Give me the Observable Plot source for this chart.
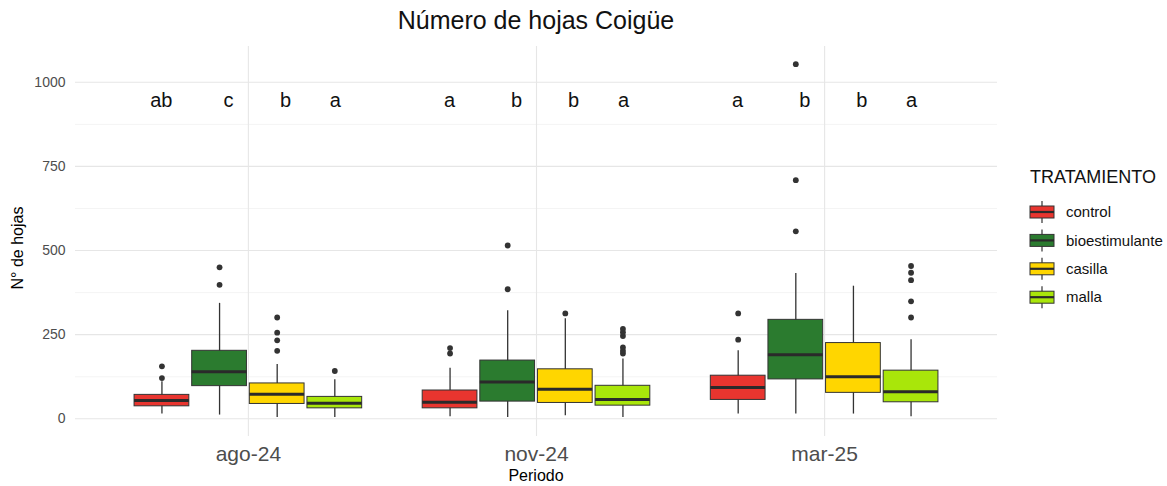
<!DOCTYPE html>
<html>
<head>
<meta charset="utf-8">
<script src="https://cdn.jsdelivr.net/npm/d3@7"></script>
<script src="https://cdn.jsdelivr.net/npm/@observablehq/plot@0.6"></script>
<style>
  html, body { margin: 0; padding: 0; background: #fff; }
  #wrap { position: relative; width: 1167px; height: 486px; font-family: "Liberation Sans", Arial, sans-serif; overflow: hidden; }
  #chart { position: absolute; left: 0; top: 0; }
  .lbl { position: absolute; white-space: nowrap; color: #000; }
</style>
</head>
<body>
<div id="wrap">
  <div id="chart"></div>
  <div class="lbl" id="title" style="left:0;width:1072px;text-align:center;top:6px;font-size:25px;color:#111;">Número de hojas Coigüe</div>
  <div class="lbl" id="xlab" style="left:0;width:1072px;text-align:center;top:467px;font-size:16px;line-height:18px;">Periodo</div>
  <div class="lbl" id="ylab" style="left:18px;top:248px;font-size:16px;transform:translate(-50%,-50%) rotate(-90deg);">N° de hojas</div>
  <div id="legend" style="position:absolute;left:1030px;top:164px;"></div>
</div>
<script>
// ---- data ----
const periods = ["ago-24", "nov-24", "mar-25"];
const treatments = ["control", "bioestimulante", "casilla", "malla"];
const colors = ["#E8352F", "#2B7B2F", "#FFD600", "#A9E60A"];

// statistics indexed [period][treatment]
const q1 = [[37, 97, 44, 31], [31, 51, 47, 39], [56, 117, 77, 49]];
const median = [[54, 140, 73, 46], [49, 109, 88, 57], [93, 190, 125, 80]];
const q3 = [[71, 202, 105, 65], [84, 173, 147, 98], [128, 294, 225, 143]];
const whiskerLow = [[14, 11, 4, 4], [6, 4, 9, 4], [14, 14, 14, 6]];
const whiskerHigh = [[110, 343, 161, 116], [150, 321, 297, 178], [202, 432, 394, 235]];
const outliers = [
  [[121, 156], [398, 450], [202, 233, 256, 301], [142]],
  [[194, 210], [385, 515], [313], [194, 202, 212, 246, 257, 267]],
  [[235, 313], [557, 709, 1054], [], [301, 349, 412, 434, 454]]
];
const letters = [["ab", "c", "b", "a"], ["a", "b", "b", "a"], ["a", "b", "b", "a"]];
const letterY = 945;
const yTicks = [0, 250, 500, 750, 1000];
const yMinor = [125, 375, 625, 875];

// ---- layout constants ----
const boxOffset = [-0.3, -0.1, 0.1, 0.3];
const letterOffset = [-0.302, -0.069, 0.129, 0.302];
const halfW = 0.095;

const stats = [];
const outs = [];
const lets = [];
periods.forEach((p, g) => treatments.forEach((t, ti) => {
  stats.push({period: p, trat: t, gi: g + 1, ti,
    q1: q1[g][ti], med: median[g][ti], q3: q3[g][ti], lo: whiskerLow[g][ti], hi: whiskerHigh[g][ti]});
  outliers[g][ti].forEach(v => outs.push({gi: g + 1, ti, v}));
  lets.push({gi: g + 1, ti, text: letters[g][ti], y: letterY});
}));
const xc = d => d.gi + boxOffset[d.ti];

const chart = Plot.plot({
  width: 1167, height: 486,
  marginLeft: 75, marginRight: 170, marginTop: 46, marginBottom: 50,
  x: {domain: [0.4, 3.6], axis: null},
  y: {domain: [-52.7, 1106.4], axis: null},
  color: {domain: treatments, range: colors},
  style: {fontFamily: "Liberation Sans, Arial, sans-serif", background: "white", overflow: "visible"},
  marks: [
    Plot.gridY(yMinor, {stroke: "#F1F1F1", strokeOpacity: 1, strokeWidth: 0.8}),
    Plot.gridY(yTicks, {stroke: "#E6E6E6", strokeOpacity: 1, strokeWidth: 1.1}),
    Plot.gridX([1, 2, 3], {stroke: "#E6E6E6", strokeOpacity: 1, strokeWidth: 1.1}),
    Plot.axisY(yTicks, {tickSize: 0, tickPadding: 10, fontSize: 14, color: "#4d4d4d", label: null,
      tickFormat: d => String(d)}),
    Plot.axisX([1, 2, 3], {tickSize: 0, tickPadding: 10, fontSize: 21, color: "#4d4d4d", label: null,
      tickFormat: i => periods[i - 1]}),
    Plot.ruleX(stats, {x: xc, y1: "lo", y2: "hi", stroke: "#333", strokeWidth: 1.3}),
    Plot.rect(stats, {x1: d => xc(d) - halfW, x2: d => xc(d) + halfW, y1: "q1", y2: "q3",
      fill: "trat", stroke: "#333", strokeWidth: 1}),
    Plot.ruleY(stats, {y: "med", x1: d => xc(d) - halfW, x2: d => xc(d) + halfW, stroke: "#2a2a2a", strokeWidth: 3}),
    Plot.dot(outs, {x: xc, y: "v", r: 2.9, fill: "#333", stroke: "none"}),
    Plot.text(lets, {x: d => d.gi + letterOffset[d.ti], y: "y", text: "text", fontSize: 20, fill: "#111"})
  ]
});
document.getElementById("chart").appendChild(chart);

// ---- legend ----
const lw = 140, lh = 150;
const lsvg = d3.select("#legend").append("svg").attr("width", lw).attr("height", lh)
  .style("font-family", "Liberation Sans, Arial, sans-serif").style("overflow", "visible");
lsvg.append("text").attr("x", 0).attr("y", 19).attr("font-size", 18).attr("fill", "#111").text("TRATAMIENTO");
const rows = lsvg.selectAll("g.row").data(treatments).join("g")
  .attr("transform", (d, i) => `translate(0, ${48 + i * 28.4})`);
rows.append("line").attr("x1", 12).attr("x2", 12).attr("y1", -11).attr("y2", 11).attr("stroke", "#333").attr("stroke-width", 1.2);
rows.append("rect").attr("x", 0).attr("y", -6).attr("width", 24).attr("height", 12)
  .attr("fill", (d, i) => colors[i]).attr("stroke", "#333").attr("stroke-width", 1);
rows.append("line").attr("x1", 0).attr("x2", 24).attr("y1", 0).attr("y2", 0).attr("stroke", "#2a2a2a").attr("stroke-width", 2.2);
rows.append("text").attr("x", 36).attr("y", 0).attr("dy", "0.35em").attr("font-size", 15).attr("fill", "#111").text(d => d);
</script>
</body>
</html>
